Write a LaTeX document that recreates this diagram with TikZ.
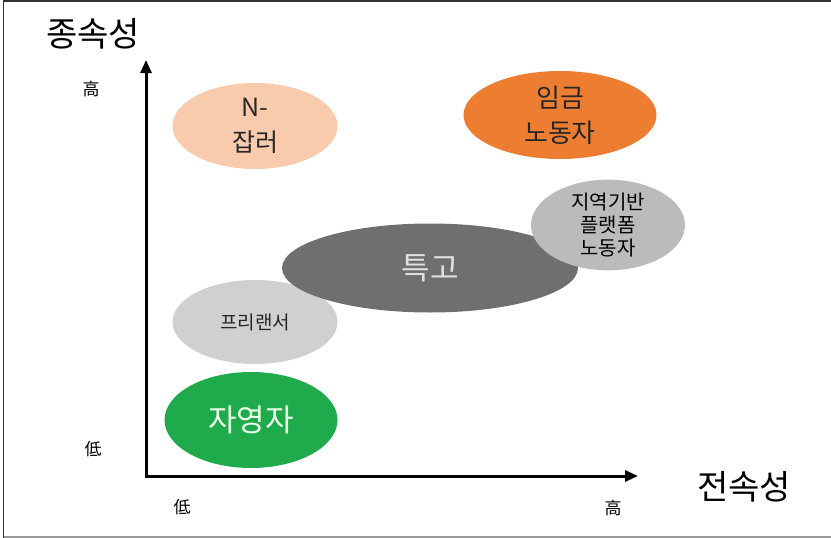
\documentclass[tikz,border=0pt]{standalone}
\usepackage{fontspec}
\setmainfont{Noto Sans CJK KR}
\usetikzlibrary{shapes.geometric,arrows.meta}
\definecolor{peach}{HTML}{F8CBAD}
\definecolor{orangeC}{HTML}{ED7D31}
\definecolor{midgray}{HTML}{BBBBBB}
\definecolor{darkgray}{HTML}{6F6F6F}
\definecolor{lightgray}{HTML}{D0D0D0}
\definecolor{greenC}{HTML}{1FAA4B}
\definecolor{txtdark}{HTML}{262626}
\tikzset{
  blob/.style={ellipse, draw=none, inner sep=0pt, align=center},
  bigtxt/.style={font=\fontsize{26pt}{35pt}\selectfont},
  hugetxt/.style={font=\fontsize{31pt}{35pt}\selectfont},
  smalltxt/.style={font=\fontsize{20pt}{23pt}\selectfont},
  axislabel/.style={font=\fontsize{34pt}{36pt}\selectfont, text=black},
  ticklabel/.style={font=\fontsize{17pt}{18pt}\selectfont, text=black},
  axisline/.style={line width=3pt, {Triangle[length=13pt,width=11pt]}-{Triangle[length=13pt,width=11pt]}}
}
\begin{document}
\begin{tikzpicture}[x=1pt,y=-1pt]
\useasboundingbox (0,0) rectangle (831,538);
\fill[white] (0,0) rectangle (831,538);
% frame
\draw[line width=1.5pt, color=black!80] (3.5,538) -- (3.5,0.8) -- (831,0.8);
\draw[line width=1.5pt, color=black!40] (3.5,537) -- (831,537);

% ellipses (back to front)
\node[blob, fill=lightgray, minimum width=165pt, minimum height=84pt, font=\fontsize{19pt}{23pt}\selectfont, text=txtdark] (free) at (255,322) {프리랜서};
\node[blob, fill=darkgray, minimum width=296pt, minimum height=89pt, hugetxt, text=white!88!black] (tg) at (430,268) {특고};
\node[blob, fill=midgray, minimum width=154pt, minimum height=90pt, smalltxt, text=black] (plat) at (608,225) {지역기반\\플랫폼\\노동자};
\node[blob, fill=peach, minimum width=165pt, minimum height=86pt, font=\fontsize{25pt}{35pt}\selectfont, text=txtdark] (nj) at (255,126) {N-\\잡러};
\node[blob, fill=orangeC, minimum width=193pt, minimum height=88pt, bigtxt, text=txtdark] (wage) at (560,115) {임금\\노동자};
\node[blob, fill=greenC, minimum width=173pt, minimum height=96pt, hugetxt, text=white!92!green] (self) at (251,420) {자영자};

% axes
\coordinate (o) at (146,476);
\coordinate (ytip) at (146,60);
\coordinate (xtip) at (638,476);
\draw[axisline] (ytip) -- (o) -- (xtip);

% labels
\node[axislabel] (ylab) at (93,34) {종속성};
\node[axislabel] (xlab) at (744,487) {전속성};
\node[ticklabel] (yhi) at (91,89) {高};
\node[ticklabel] (ylo) at (93,449) {低};
\node[ticklabel] (xlo) at (182,507) {低};
\node[ticklabel] (xhi) at (613,508) {高};
\end{tikzpicture}
\end{document}
